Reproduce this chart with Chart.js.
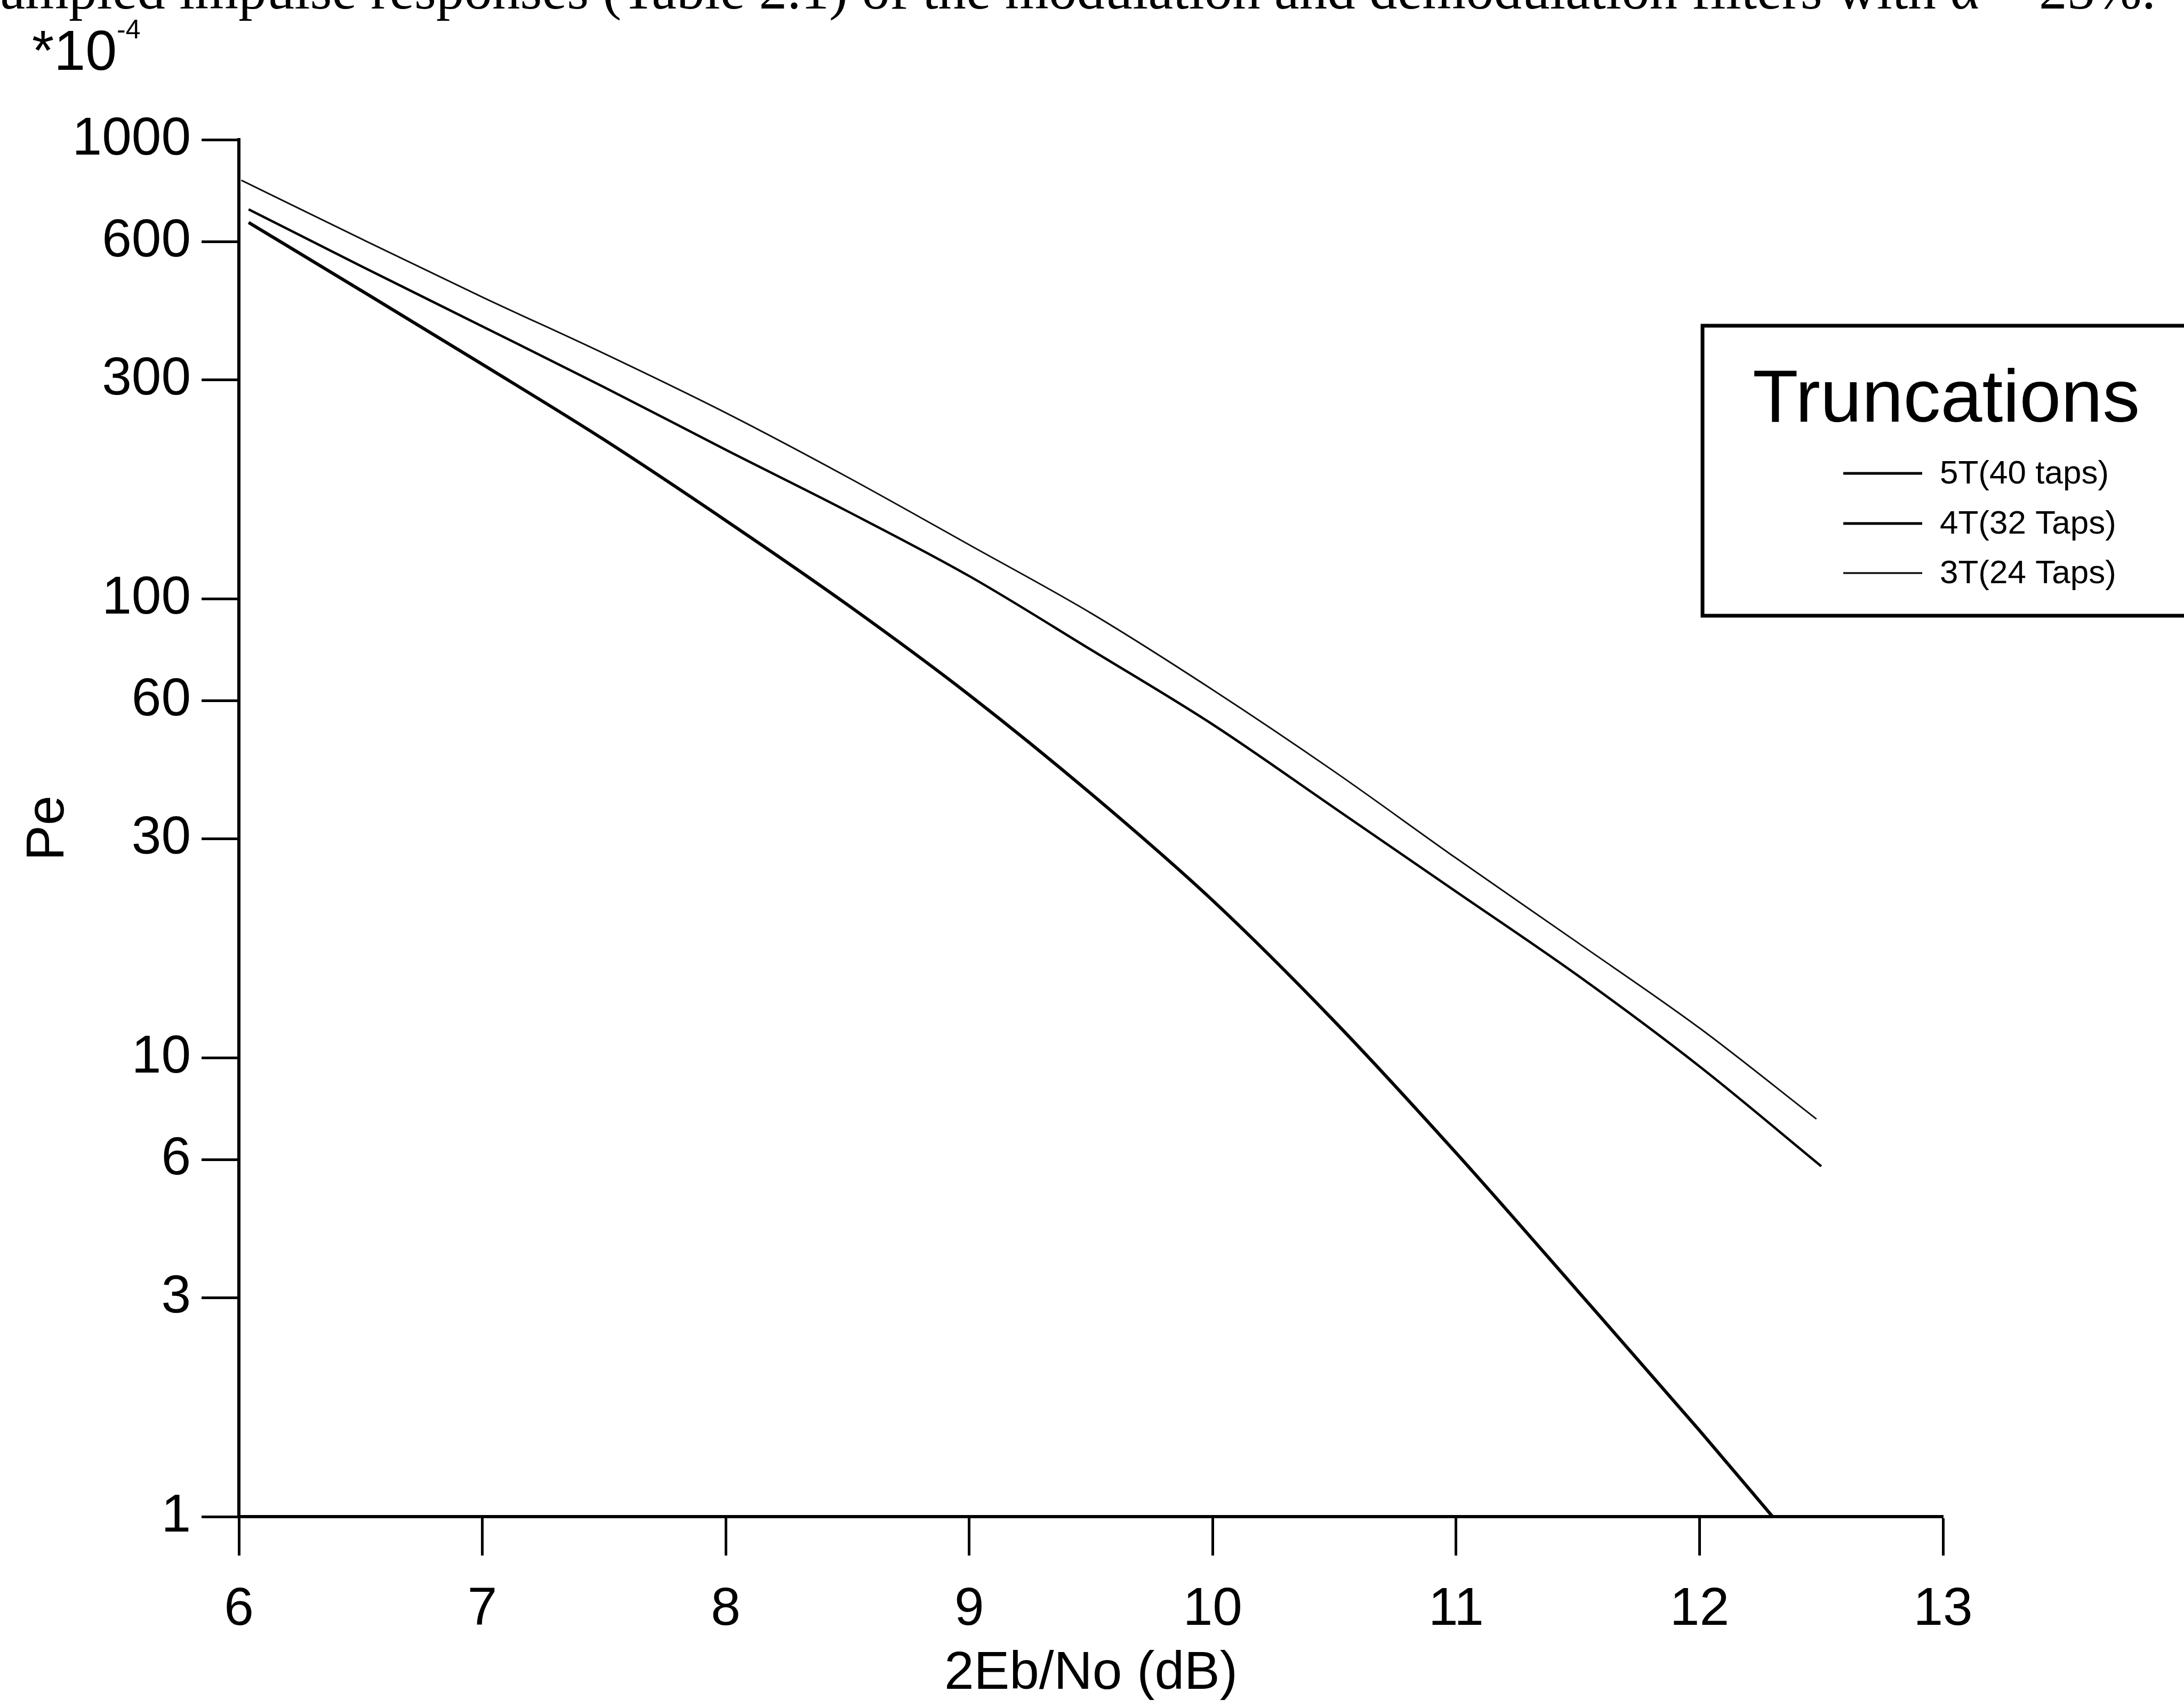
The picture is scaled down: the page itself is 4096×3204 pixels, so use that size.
<!DOCTYPE html>
<html>
<head>
<meta charset="utf-8">
<script src="https://cdn.jsdelivr.net/npm/chart.js@4.4.1/dist/chart.umd.min.js"></script>
<style>
  html, body { margin: 0; padding: 0; background: #fff; }
  canvas { display: block; }
</style>
</head>
<body>
<canvas id="chart" width="4096" height="3204"></canvas>
<script>
// values (Pe in units of 1e-4)
const snr5T = [6.04, 6.5, 7, 7.5, 8, 8.5, 9, 9.5, 10, 10.5, 11, 11.5, 12, 12.3];
const pe5T = [660, 470, 324, 222, 148, 97, 61.7, 37.6, 22.0, 12.0, 6.2, 3.1, 1.54, 1.0];
const snr4T = [6.04, 6.5, 7, 7.5, 8, 8.5, 9, 9.5, 10, 10.5, 11, 11.5, 12, 12.5];
const pe4T = [705, 531, 392, 289, 211, 155, 112, 77.4, 53.2, 35, 23, 15.1, 9.57, 5.8];
const snr3T = [6.01, 6.5, 7, 7.5, 8, 8.5, 9, 9.5, 10, 10.5, 11, 11.5, 12, 12.48];
const pe3T = [816, 609, 454, 342, 254, 184, 131, 93, 63.3, 42, 27.2, 17.8, 11.6, 7.35];

const seriesLabels = ['5T(40 taps)', '4T(32 Taps)', '3T(24 Taps)'];
const xTickValues = [6, 7, 8, 9, 10, 11, 12, 13];
const yTickValues = [1, 3, 6, 10, 30, 60, 100, 300, 600, 1000];

const captionText = 'sampled impulse responses (Table 2.1) of the modulation and demodulation filters with \u03b1 = 25%.';
const legendTitle = 'Truncations';

const SANS = "'Liberation Sans', Arial, Helvetica, sans-serif";
const SERIF = "'Liberation Serif', 'Times New Roman', serif";

function toPoints(xs, ys) {
  return xs.map((x, i) => ({ x: x, y: ys[i] }));
}

const extras = {
  id: 'extras',
  afterDraw(chart) {
    const ctx = chart.ctx;
    ctx.save();
    ctx.fillStyle = '#000';
    ctx.strokeStyle = '#000';

    // caption cut off at the top of the page
    ctx.font = '100px ' + SERIF;
    const visible = captionText.slice(1);
    const size = 100 * 4043 / ctx.measureText(visible).width;
    ctx.font = size + 'px ' + SERIF;
    ctx.textAlign = 'right';
    ctx.textBaseline = 'alphabetic';
    ctx.fillText(captionText, 4043, 16);

    // *10^-4 multiplier
    ctx.textAlign = 'left';
    ctx.font = '106px ' + SANS;
    ctx.fillText('*10', 60, 131);
    ctx.font = '50px ' + SANS;
    ctx.fillText('-4', 219, 72);

    // legend box
    ctx.lineWidth = 7;
    ctx.strokeRect(3193, 611, 1100, 544);
    ctx.font = '140px ' + SANS;
    ctx.textAlign = 'center';
    ctx.fillText(legendTitle, 3650, 791);

    const rowY = [888, 982, 1075];
    ctx.font = '62px ' + SANS;
    ctx.textAlign = 'left';
    ctx.textBaseline = 'middle';
    chart.data.datasets.forEach((ds, i) => {
      ctx.lineWidth = ds.legendWidth;
      ctx.strokeStyle = ds.borderColor;
      ctx.beginPath();
      ctx.moveTo(3457, rowY[i]);
      ctx.lineTo(3605, rowY[i]);
      ctx.stroke();
      ctx.fillText(ds.label, 3638, rowY[i] + 2);
    });
    ctx.restore();
  }
};

new Chart(document.getElementById('chart'), {
  type: 'line',
  data: {
    datasets: [
      {
        label: seriesLabels[0],
        data: toPoints(snr5T, pe5T),
        borderColor: '#000',
        borderWidth: 6,
        legendWidth: 5,
      },
      {
        label: seriesLabels[1],
        data: toPoints(snr4T, pe4T),
        borderColor: '#000',
        borderWidth: 4.5,
        legendWidth: 5,
      },
      {
        label: seriesLabels[2],
        data: toPoints(snr3T, pe3T),
        borderColor: '#111',
        borderWidth: 3,
        legendWidth: 3.5,
      },
    ],
  },
  options: {
    responsive: false,
    animation: false,
    events: [],
    elements: {
      point: { radius: 0 },
      line: { cubicInterpolationMode: 'monotone', fill: false },
    },
    layout: { padding: { left: 0, right: 452, top: 262, bottom: 0 } },
    plugins: {
      legend: { display: false },
      tooltip: { enabled: false },
    },
    scales: {
      x: {
        type: 'linear',
        position: 'bottom',
        min: 6,
        max: 13,
        afterBuildTicks: (s) => { s.ticks = xTickValues.map((v) => ({ value: v })); },
        afterFit: (s) => { s.height = 3204 - 2845; },
        ticks: {
          color: '#000',
          font: { family: SANS, size: 100 },
          padding: 42,
          maxRotation: 0,
          callback: (v) => String(v),
        },
        grid: {
          drawOnChartArea: false,
          drawTicks: true,
          tickLength: 73,
          tickWidth: 5,
          tickColor: '#000',
        },
        border: { display: true, color: '#000', width: 6 },
        title: {
          display: true,
          text: '2Eb/No (dB)',
          color: '#000',
          font: { family: SANS, size: 100 },
          padding: { top: 0, bottom: 4 },
        },
      },
      y: {
        type: 'logarithmic',
        position: 'left',
        min: 1,
        max: 1000,
        afterBuildTicks: (s) => { s.ticks = yTickValues.map((v) => ({ value: v })); },
        afterFit: (s) => { s.width = 448; },
        ticks: {
          color: '#000',
          font: { family: SANS, size: 100 },
          padding: 20,
          callback: (v) => String(v),
        },
        grid: {
          drawOnChartArea: false,
          drawTicks: true,
          tickLength: 70,
          tickWidth: 5,
          tickColor: '#000',
        },
        border: { display: true, color: '#000', width: 6 },
        title: {
          display: true,
          text: 'Pe',
          color: '#000',
          font: { family: SANS, size: 100 },
          padding: { top: 31, bottom: 0 },
        },
      },
    },
  },
  plugins: [extras],
});
</script>
</body>
</html>
